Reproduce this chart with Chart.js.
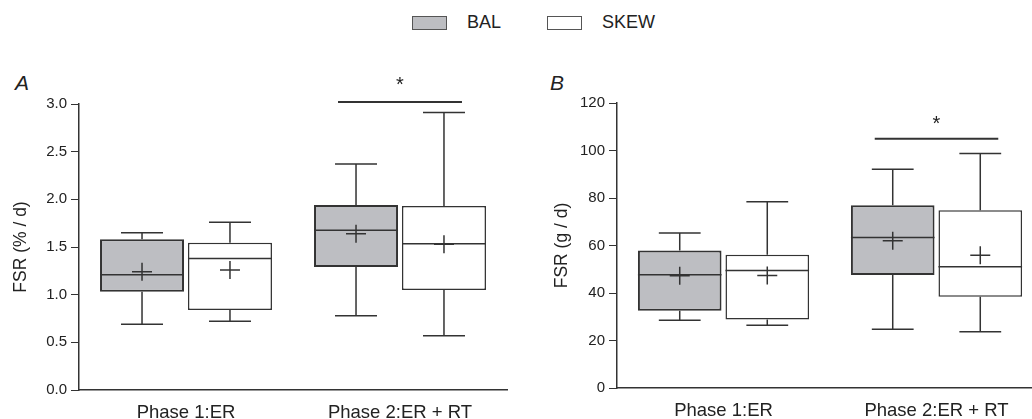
<!DOCTYPE html>
<html lang="en">
<head>
<meta charset="UTF-8">
<title>FSR BAL vs SKEW</title>
<script src="https://cdn.jsdelivr.net/npm/chart.js"></script>
<style>
  body {
    margin: 0;
    width: 1032px;
    height: 419px;
    overflow: hidden;
    background: #fff;
    position: relative;
    font-family: "Liberation Sans", Arial, sans-serif;
    color: #222;
  }
  .wrap { position: absolute; top: 0; height: 419px; }
  #wrapA { left: 0; width: 520px; }
  #wrapB { left: 520px; width: 530px; }
  .swatch {
    position: absolute; top: 16px; width: 33px; height: 12px;
    border: 1px solid #555;
  }
  .legtxt { position: absolute; top: 11px; font-size: 18px; line-height: 22px; }
  .panel { position: absolute; top: 71px; font-size: 21px; font-style: italic; }
</style>
</head>
<body>
  <!-- leyenda -->
  <div class="swatch" style="left:412px;background:#bdbec2"></div>
  <div class="legtxt" style="left:467px">BAL</div>
  <div class="swatch" style="left:547px;background:#fff"></div>
  <div class="legtxt" style="left:602px">SKEW</div>

  <div class="panel" style="left:15px">A</div>
  <div class="panel" style="left:550px">B</div>

  <div class="wrap" id="wrapA"><canvas id="chartA" width="520" height="419"></canvas></div>
  <div class="wrap" id="wrapB"><canvas id="chartB" width="530" height="419"></canvas></div>

<script>
  // categorias
  const categories = ['Phase 1:ER', 'Phase 2:ER + RT'];

  // [min, q1, mediana, q3, max] por categoria
  const balPct = [[0.69, 1.03, 1.21, 1.58, 1.65], [0.78, 1.29, 1.675, 1.94, 2.37]];
  const skewPct = [[0.72, 0.84, 1.38, 1.545, 1.76], [0.57, 1.05, 1.535, 1.93, 2.91]];
  const balPctMean = [1.24, 1.64];
  const skewPctMean = [1.26, 1.53];

  const balGd = [[28.5, 32.5, 47.7, 57.9, 65.3], [24.7, 47.6, 63.4, 76.9, 92.1]];
  const skewGd = [[26.4, 28.8, 49.5, 56.1, 78.4], [23.7, 38.4, 51.1, 74.8, 98.7]];
  const balGdMean = [47.3, 62.0];
  const skewGdMean = [47.4, 55.9];

  // ticks
  const ticksA = [0, 0.5, 1.0, 1.5, 2.0, 2.5, 3.0];
  const ticksB = [0, 20, 40, 60, 80, 100, 120];

  const lineColor = '#333';
  const balFill = '#bdbec2';

  Chart.defaults.font.family = '"Liberation Sans", Arial, sans-serif';
  Chart.defaults.color = '#222';

  // Dibuja bigotes, mediana, media y la marca de significancia
  const boxPlugin = {
    id: 'boxWhiskers',
    afterDatasetsDraw(chart, args, opts) {
      const ctx = chart.ctx;
      const y = chart.scales.y;
      ctx.save();
      ctx.strokeStyle = lineColor;
      ctx.lineWidth = 1.5;
      chart.data.datasets.forEach((ds, i) => {
        const meta = chart.getDatasetMeta(i);
        meta.data.forEach((bar, j) => {
          const [lo, q1, med, q3, hi] = ds.stats[j];
          const x = bar.x, w = bar.width, cap = w / 4;
          const pLo = y.getPixelForValue(lo), pQ1 = y.getPixelForValue(q1);
          const pQ3 = y.getPixelForValue(q3), pHi = y.getPixelForValue(hi);
          const pMed = y.getPixelForValue(med), pMean = y.getPixelForValue(ds.means[j]);
          ctx.beginPath();
          ctx.moveTo(x, pLo); ctx.lineTo(x, pQ1);
          ctx.moveTo(x, pQ3); ctx.lineTo(x, pHi);
          ctx.moveTo(x - cap, pLo); ctx.lineTo(x + cap, pLo);
          ctx.moveTo(x - cap, pHi); ctx.lineTo(x + cap, pHi);
          ctx.moveTo(x - w / 2, pMed); ctx.lineTo(x + w / 2, pMed);
          // media
          ctx.moveTo(x - 10, pMean); ctx.lineTo(x + 10, pMean);
          ctx.moveTo(x, pMean - 9); ctx.lineTo(x, pMean + 9);
          ctx.stroke();
        });
      });
      // significancia
      const s = opts.sig;
      if (s) {
        const b0 = chart.getDatasetMeta(0).data[s.index];
        const b1 = chart.getDatasetMeta(1).data[s.index];
        const yy = y.getPixelForValue(s.value);
        ctx.lineWidth = 2;
        ctx.beginPath();
        ctx.moveTo(b0.x - 18, yy); ctx.lineTo(b1.x + 18, yy);
        ctx.stroke();
        ctx.fillStyle = '#222';
        ctx.font = '20px "Liberation Sans", Arial, sans-serif';
        ctx.textAlign = 'center';
        ctx.textBaseline = 'middle';
        ctx.fillText('*', (b0.x + b1.x) / 2, yy - s.gap);
      }
      ctx.restore();
    }
  };

  function makeDataset(label, stats, means, fill, bw) {
    return {
      label: label,
      data: stats.map(s => [s[1], s[3]]),
      stats: stats,
      means: means,
      backgroundColor: fill,
      borderColor: lineColor,
      borderWidth: bw,
      borderSkipped: false,
      categoryPercentage: 0.822,
      barPercentage: 0.955
    };
  }

  function makeChart(id, opt) {
    return new Chart(document.getElementById(id), {
      type: 'bar',
      data: {
        labels: categories,
        datasets: [
          makeDataset('BAL', opt.bal, opt.balMean, balFill, 2),
          makeDataset('SKEW', opt.skew, opt.skewMean, '#fff', 1.5)
        ]
      },
      options: {
        responsive: false,
        animation: false,
        layout: { padding: { top: opt.top, right: opt.right, left: 0, bottom: 0 } },
        plugins: {
          legend: { display: false },
          tooltip: { enabled: false },
          boxWhiskers: { sig: opt.sig }
        },
        scales: {
          x: {
            grid: { display: true, drawOnChartArea: false, drawTicks: false },
            border: { display: true, color: lineColor, width: 1.5 },
            ticks: { font: { size: 18.5 }, padding: 12, color: '#222' },
            afterFit: (scale) => { scale.height = opt.xh; }
          },
          y: {
            min: opt.ticks[0],
            max: opt.ticks[opt.ticks.length - 1],
            afterBuildTicks: (scale) => { scale.ticks = opt.ticks.map(v => ({ value: v })); },
            grid: { drawOnChartArea: false, tickLength: 8, color: lineColor },
            border: { display: true, color: lineColor, width: 1.5 },
            ticks: { font: { size: 15 }, padding: 4, color: '#222', callback: opt.fmt },
            title: { display: true, text: opt.title, font: { size: 17.5 }, color: '#222', padding: { top: opt.titlePad, bottom: 0 } },
            afterFit: (scale) => { scale.width = opt.yw; }
          }
        }
      },
      plugins: [boxPlugin]
    });
  }

  makeChart('chartA', {
    bal: balPct, skew: skewPct, balMean: balPctMean, skewMean: skewPctMean,
    ticks: ticksA, fmt: v => Number(v).toFixed(1), title: 'FSR (% / d)',
    top: 104, right: 13, xh: 29, yw: 79, titlePad: 11,
    sig: { index: 1, value: 3.02, gap: 17 }
  });

  makeChart('chartB', {
    bal: balGd, skew: skewGd, balMean: balGdMean, skewMean: skewGdMean,
    ticks: ticksB, fmt: v => v, title: 'FSR (g / d)',
    top: 103, right: 7, xh: 31, yw: 97, titlePad: 32,
    sig: { index: 1, value: 105, gap: 14 }
  });
</script>
</body>
</html>
